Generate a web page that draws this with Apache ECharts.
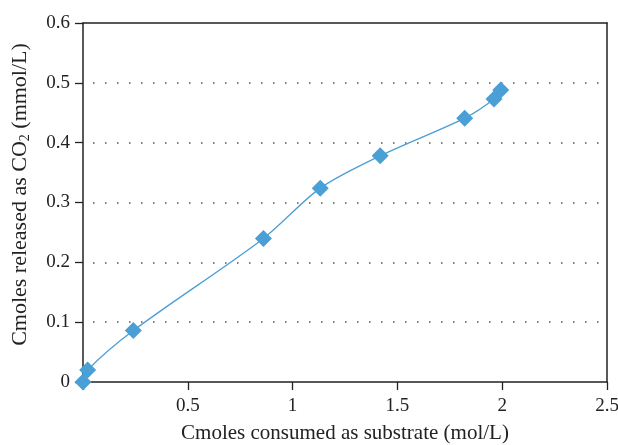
<!DOCTYPE html>
<html><head><meta charset="utf-8">
<script src="https://cdn.jsdelivr.net/npm/echarts@6/dist/echarts.min.js"></script>
<style>html,body{margin:0;padding:0;background:#fff}#c{width:618px;height:445px}</style>
</head><body><div id="c"></div>
<script>
const substrate = [0, 0.022, 0.24, 0.861, 1.132, 1.418, 1.821, 1.961, 1.993];
const co2 = [0, 0.020, 0.086, 0.240, 0.324, 0.378, 0.441, 0.473, 0.488];
const xTicks = [0, 0.5, 1, 1.5, 2, 2.5];
const yTicks = [0, 0.1, 0.2, 0.3, 0.4, 0.5, 0.6];
const xTitle = 'Cmoles consumed as substrate (mol/L)';
const yTitleParts = ['Cmoles released as CO', '2', ' (mmol/L)'];

const font = '"Liberation Serif","DejaVu Serif",serif';
const ink = '#222';
const chart = echarts.init(document.getElementById('c'), null, {renderer: 'canvas'});
const hidden = {show: false};
chart.setOption({
  animation: false,
  grid: {left: 83, right: 11, top: 23, bottom: 63, containLabel: false, outerBoundsMode: 'none'},
  xAxis: [{
    type: 'value', min: xTicks[0], max: xTicks[xTicks.length - 1], interval: 0.5,
    name: xTitle, nameLocation: 'middle', nameGap: 41,
    nameTextStyle: {fontFamily: font, fontSize: 21, color: ink},
    axisLine: {show: true, lineStyle: {color: ink, width: 1.5}},
    axisTick: {show: true, inside: false, length: 8, lineStyle: {color: ink, width: 1.3}},
    axisLabel: {margin: 15, fontFamily: font, fontSize: 19, color: ink,
      formatter: v => (v === 0 ? '' : String(v))},
    splitLine: hidden
  }, {
    type: 'value', position: 'top', min: 0, max: 2.5,
    axisLine: {show: true, onZero: false, lineStyle: {color: ink, width: 1.5}},
    axisTick: hidden, axisLabel: hidden, splitLine: hidden
  }],
  yAxis: [{
    type: 'value', min: yTicks[0], max: yTicks[yTicks.length - 1], interval: 0.1,
    name: '{a|' + yTitleParts[0] + '}{s|' + yTitleParts[1] + '}{a|' + yTitleParts[2] + '}',
    nameLocation: 'middle', nameGap: 51, nameRotate: 90,
    nameTextStyle: {fontFamily: font, fontSize: 22, color: ink, padding: [0, 0, 0, 16],
      rich: {a: {fontFamily: font, fontSize: 22, color: ink},
             s: {fontFamily: font, fontSize: 14, color: ink, padding: [10, 0, 0, 0]}}},
    axisLine: {show: true, lineStyle: {color: ink, width: 1.5}},
    axisTick: {show: true, inside: false, length: 8, lineStyle: {color: ink, width: 1.3}},
    axisLabel: {margin: 13, fontFamily: font, fontSize: 19, color: ink,
      formatter: v => String(Math.round(v * 10) / 10)},
    splitLine: {show: true, showMinLine: false, showMaxLine: false,
      lineStyle: {color: '#555', width: 1.5, type: [1.5, 10.5], dashOffset: -10}}
  }, {
    type: 'value', position: 'right', min: 0, max: 0.6,
    axisLine: {show: true, onZero: false, lineStyle: {color: ink, width: 1.5}},
    axisTick: hidden, axisLabel: hidden, splitLine: hidden
  }],
  series: [{
    type: 'line',
    data: substrate.map((x, i) => [x, co2[i]]),
    smooth: 0.3,
    symbol: 'diamond', symbolSize: 17,
    lineStyle: {color: '#4a9fd4', width: 1.3},
    itemStyle: {color: '#4a9fd4'}
  }]
});
</script></body></html>
